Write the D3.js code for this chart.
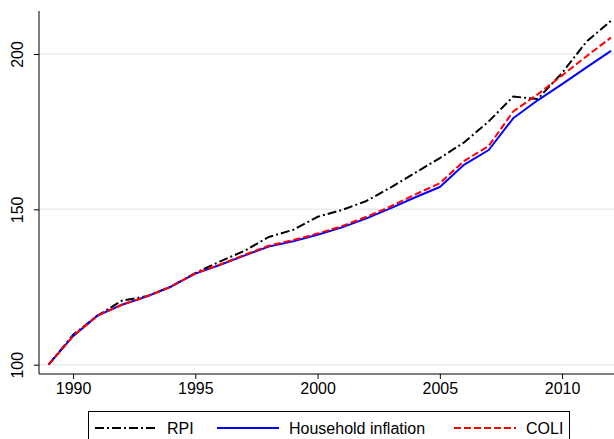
<!DOCTYPE html>
<html><head><meta charset="utf-8">
<script src="https://cdn.jsdelivr.net/npm/d3@7"></script>
<style>body{margin:0;background:#fff}svg{display:block}text{font-family:"Liberation Sans",Arial,sans-serif}</style>
</head><body><svg id="c" width="614" height="439"></svg>
<script>
const years = d3.range(1989, 2013);
const rpi  = [100,109.6,115.8,120.6,122.0,125.1,129.5,133.2,136.6,141.1,143.4,147.6,149.8,152.7,157.1,161.8,166.5,171.6,178.3,186.3,185.5,193.9,204.0,210.7];
const hh   = [100,109.2,115.8,119.3,121.9,125.1,129.3,132.1,135.1,138.0,139.7,141.8,144.2,147.1,150.4,153.9,157.2,164.4,169.1,179.3,185.1,190.3,195.7,201.0];
const coli = [100,109.2,115.8,119.3,121.9,125.1,129.4,132.2,135.3,138.3,140.1,142.2,144.6,147.6,151.0,154.8,158.4,165.6,170.4,181.5,187.0,193.1,199.3,205.3];
const xTicks = [1990,1995,2000,2005,2010];
const yTicks = [100,150,200];
const series = [
  {name:"RPI", values:rpi, color:"#000000", dash:"9,3,2,3"},
  {name:"Household inflation", values:hh, color:"#0000ff", dash:null},
  {name:"COLI", values:coli, color:"#ff0000", dash:"7,3"}
];

const svg = d3.select("#c");
const x = d3.scaleLinear().domain([1989,2012]).range([48.6,611]);
const y = d3.scaleLinear().domain([100,200]).range([364.7,54]);
const axL = 39, axB = 374;

// gridlines
svg.append("g").selectAll("line").data(yTicks).join("line")
  .attr("x1",axL).attr("x2",614).attr("y1",d=>y(d)).attr("y2",d=>y(d))
  .attr("stroke","#e6eef2").attr("stroke-width",1.5);

// lines
const line = d3.line().x((d,i)=>x(years[i])).y(d=>y(d));
series.forEach(s=>{
  svg.append("path").attr("d",line(s.values)).attr("fill","none")
    .attr("stroke",s.color).attr("stroke-width",2)
    .attr("stroke-dasharray",s.dash).attr("stroke-linejoin","round");
});

// y axis
const ya = svg.append("g").attr("transform",`translate(${axL},0)`)
  .call(d3.axisLeft(y).tickValues(yTicks).tickSize(5).tickFormat(d3.format("d")));
ya.select(".domain").attr("d",`M0,11V${axB}`).attr("stroke","#000");
ya.selectAll(".tick line").attr("stroke","#000");
ya.selectAll(".tick text").attr("font-size",16).attr("fill","#000")
  .attr("text-anchor","middle").attr("x",0).attr("dy",0)
  .attr("transform","translate(-16,0) rotate(-90)");

// x axis
const xa = svg.append("g").attr("transform",`translate(0,${axB})`)
  .call(d3.axisBottom(x).tickValues(xTicks).tickSize(5).tickFormat(d3.format("d")));
xa.select(".domain").attr("d",`M${axL},0H614`).attr("stroke","#000");
xa.selectAll(".tick line").attr("stroke","#000");
xa.selectAll(".tick text").attr("font-size",16).attr("fill","#000").attr("y",9);

// legend
const lg = svg.append("g");
lg.append("rect").attr("x",88.5).attr("y",411.5).attr("width",481).attr("height",40)
  .attr("fill","#fff").attr("stroke","#000").attr("stroke-width",1);
const lx = [95,217,454];
series.forEach((s,i)=>{
  lg.append("line").attr("x1",lx[i]).attr("x2",lx[i]+62).attr("y1",428).attr("y2",428)
    .attr("stroke",s.color).attr("stroke-width",2).attr("stroke-dasharray",s.dash);
  lg.append("text").attr("x",lx[i]+72).attr("y",434).attr("font-size",16).attr("fill","#000").text(s.name);
});
</script></body></html>
